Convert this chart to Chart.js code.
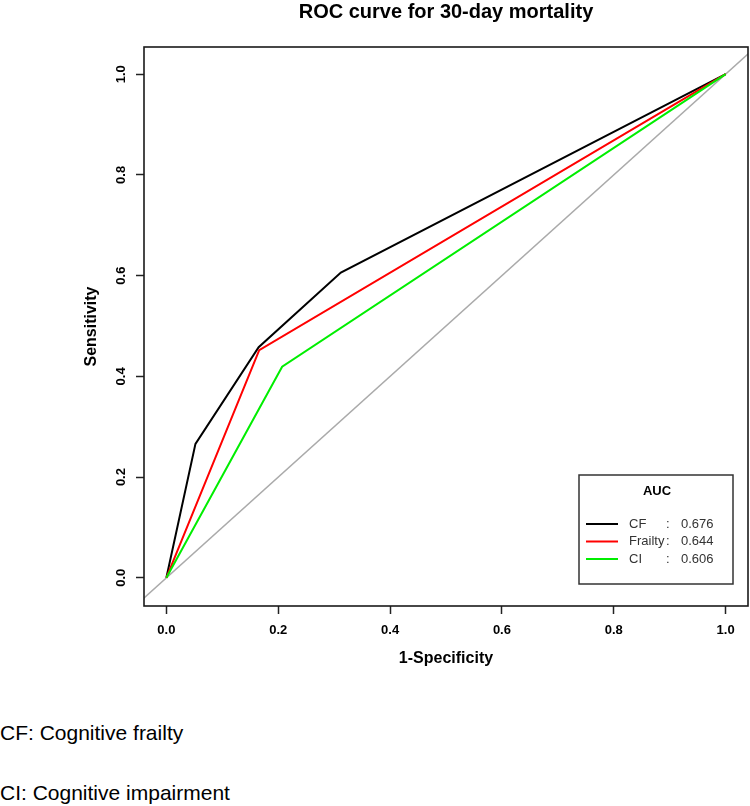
<!DOCTYPE html>
<html>
<head>
<meta charset="utf-8">
<script src="https://cdn.jsdelivr.net/npm/chart.js@4.4.1/dist/chart.umd.min.js"></script>
<style>
  html, body { margin: 0; padding: 0; background: #fff; }
  #wrap { position: relative; width: 750px; height: 806px; overflow: hidden; }
  #c { position: absolute; left: 0; top: 0; }
  .note { position: absolute; left: 0; font-family: "Liberation Sans", Arial, sans-serif; font-size: 21px; line-height: 24px; color: #000; white-space: nowrap; }
</style>
</head>
<body>
<div id="wrap">
  <canvas id="c" width="750" height="700"></canvas>
  <div class="note" style="top:721px">CF: Cognitive frailty</div>
  <div class="note" style="top:781px">CI: Cognitive impairment</div>
</div>
<script>
// ---- data ----
const chartTitle = "ROC curve for 30-day mortality";
const xTitle = "1-Specificity";
const yTitle = "Sensitivity";
const seriesNames = ["CF", "Frailty", "CI"];
const aucValues = ["0.676", "0.644", "0.606"];
const seriesColors = ["#000000", "#ff0000", "#00ee00"];
// 1-specificity (x) and sensitivity (y) for each curve
const cfX = [0, 0.052, 0.165, 0.312, 1];
const cfY = [0, 0.266, 0.458, 0.606, 1];
const frailtyX = [0, 0.166, 1];
const frailtyY = [0, 0.452, 1];
const ciX = [0, 0.207, 1];
const ciY = [0, 0.419, 1];
// reference diagonal (y = x)
const diagX = [-0.1, 1.1];
const diagY = [-0.1, 1.1];
const xTicks = [0, 0.2, 0.4, 0.6, 0.8, 1.0];
const yTicks = [0, 0.2, 0.4, 0.6, 0.8, 1.0];

const FONT = '"Liberation Sans", Arial, sans-serif';
const toPts = (xs, ys) => xs.map((x, i) => ({x: x, y: ys[i]}));

const lineDs = (label, xs, ys, color, order, width) => ({
  label: label, data: toPts(xs, ys), borderColor: color, backgroundColor: color,
  showLine: true, pointRadius: 0, pointHoverRadius: 0, borderWidth: width,
  tension: 0, fill: false, order: order
});

const decor = {
  id: 'decor',
  afterDatasetsDraw(chart) {
    const ctx = chart.ctx;
    const a = chart.chartArea;
    const ys = chart.scales.y;
    ctx.save();
    // plot box
    ctx.strokeStyle = '#1a1a1a';
    ctx.lineWidth = 1.6;
    ctx.strokeRect(a.left, a.top, a.right - a.left, a.bottom - a.top);
    ctx.fillStyle = '#000';
    // title
    ctx.font = 'bold 20px ' + FONT;
    ctx.textAlign = 'center';
    ctx.textBaseline = 'middle';
    ctx.fillText(chartTitle, (a.left + a.right) / 2, 12);
    // x axis title
    ctx.font = 'bold 16px ' + FONT;
    ctx.fillText(xTitle, (a.left + a.right) / 2, 659);
    // y tick labels (rotated)
    ctx.font = 'bold 13px ' + FONT;
    yTicks.forEach(v => {
      const py = ys.getPixelForValue(v);
      ctx.save();
      ctx.translate(121, py);
      ctx.rotate(-Math.PI / 2);
      ctx.fillText(v.toFixed(1), 0, 0);
      ctx.restore();
    });
    // y axis title
    ctx.font = 'bold 16px ' + FONT;
    ctx.save();
    ctx.translate(92, (a.top + a.bottom) / 2);
    ctx.rotate(-Math.PI / 2);
    ctx.fillText(yTitle, 0, 0);
    ctx.restore();
    // legend
    const bx = a.right - 169, by = a.bottom - 131, bw = 154, bh = 109;
    ctx.fillStyle = '#fff';
    ctx.fillRect(bx, by, bw, bh);
    ctx.strokeStyle = '#333';
    ctx.lineWidth = 1.5;
    ctx.strokeRect(bx, by, bw, bh);
    ctx.fillStyle = '#000';
    ctx.font = 'bold 13px ' + FONT;
    ctx.textAlign = 'center';
    ctx.fillText('AUC', bx + 78, by + 16);
    ctx.font = '13px ' + FONT;
    ctx.textAlign = 'left';
    seriesNames.forEach((n, i) => {
      const ry = by + 49 + i * 17.5;
      ctx.strokeStyle = seriesColors[i];
      ctx.lineWidth = 2;
      ctx.beginPath();
      ctx.moveTo(bx + 7, ry);
      ctx.lineTo(bx + 39, ry);
      ctx.stroke();
      ctx.fillStyle = '#333';
      ctx.fillText(n, bx + 50, ry);
      const w = ctx.measureText(n).width;
      ctx.fillText(':', Math.max(bx + 50 + w, bx + 87), ry);
      ctx.fillText(aucValues[i], bx + 102, ry);
    });
    ctx.restore();
  }
};

new Chart(document.getElementById('c'), {
  type: 'scatter',
  data: {
    datasets: [
      lineDs('diag', diagX, diagY, '#aaaaaa', 4, 1.5),
      lineDs(seriesNames[2], ciX, ciY, seriesColors[2], 1, 2),
      lineDs(seriesNames[1], frailtyX, frailtyY, seriesColors[1], 2, 2),
      lineDs(seriesNames[0], cfX, cfY, seriesColors[0], 3, 2)
    ]
  },
  options: {
    responsive: false,
    animation: false,
    devicePixelRatio: 1,
    layout: { padding: { left: 0, top: 47, right: 2, bottom: 0 } },
    plugins: { legend: { display: false }, tooltip: { enabled: false }, title: { display: false } },
    scales: {
      x: {
        type: 'linear', position: 'bottom', min: -0.04, max: 1.04,
        afterBuildTicks: s => { s.ticks = xTicks.map(v => ({value: v})); },
        afterFit: s => { s.height = 94; s.paddingLeft = 0; s.paddingRight = 0; },
        ticks: {
          color: '#000', font: { family: FONT, size: 13, weight: 'bold' }, padding: 9,
          maxRotation: 0, minRotation: 0, autoSkip: false,
          callback: v => Number(v).toFixed(1)
        },
        grid: { drawOnChartArea: false, drawTicks: true, tickLength: 8, tickWidth: 1.5, tickColor: '#222', color: '#222' },
        border: { display: false }
      },
      y: {
        type: 'linear', position: 'left', min: -0.056, max: 1.054,
        afterBuildTicks: s => { s.ticks = yTicks.map(v => ({value: v})); },
        afterFit: s => { s.width = 144; s.paddingTop = 0; s.paddingBottom = 0; },
        ticks: { display: false },
        grid: { drawOnChartArea: false, drawTicks: true, tickLength: 8, tickWidth: 1.5, tickColor: '#222', color: '#222' },
        border: { display: false }
      }
    }
  },
  plugins: [decor]
});
</script>
</body>
</html>
